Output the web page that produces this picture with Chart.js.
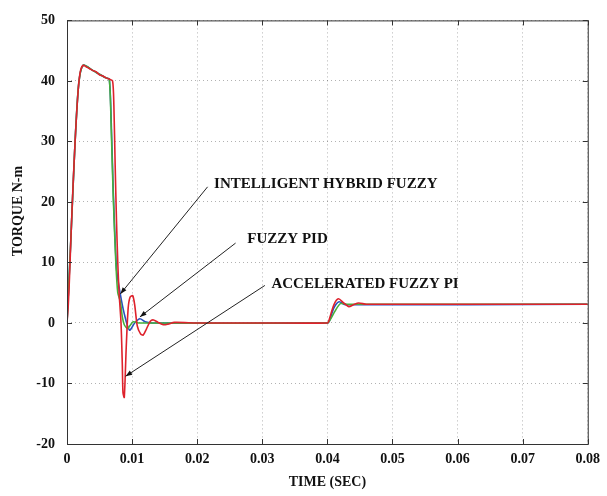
<!DOCTYPE html>
<html>
<head>
<meta charset="utf-8">
<script src="https://cdn.jsdelivr.net/npm/chart.js@4.4.0/dist/chart.umd.min.js"></script>
<style>
  body { margin: 0; background: #fff; }
</style>
</head>
<body>
<canvas id="torqueChart" width="607" height="496"></canvas>
<script>
// Torque response (time in s, torque in N-m)
const redTime = [0, 0.0002, 0.0004, 0.0006, 0.0009, 0.0012, 0.0015, 0.0018, 0.0021, 0.0025, 0.0030, 0.0035, 0.0040, 0.0045, 0.0050, 0.0055, 0.0060, 0.0065, 0.0070,
  0.0072, 0.0074, 0.0076, 0.0078, 0.0080, 0.0083, 0.0085, 0.0086, 0.0088, 0.0091, 0.0094, 0.0097, 0.0101, 0.0104, 0.0108, 0.0113, 0.0117, 0.0122, 0.0128, 0.0133, 0.0140, 0.0148, 0.0155, 0.0165, 0.0200, 0.0300,
  0.0400, 0.0402, 0.0410, 0.0417, 0.0425, 0.0433, 0.0440, 0.0448, 0.0460, 0.0600, 0.0800];
const redTorque = [0, 3, 8, 14, 22, 29, 35, 39.5, 41.8, 42.6, 42.3, 42.0, 41.7, 41.5, 41.0, 40.8, 40.5, 40.3, 40.0,
  36, 26, 17, 10, 5, 0, -7, -11.5, -12.3, -4, 2.5, 4.3, 4.5, 3, -0.5, -1.8, -2, -1, 0.3, 0.5, 0.1, -0.3, -0.2, 0.1, 0, 0,
  0, 0.3, 3, 4, 3.3, 2.7, 3.0, 3.3, 3.1, 3.1, 3.1];

const greenTime = [0, 0.0006, 0.0012, 0.0018, 0.0025, 0.0040, 0.0060, 0.0065, 0.0068, 0.0071, 0.0075, 0.0078, 0.0082, 0.0085, 0.0088, 0.0093, 0.0097, 0.0102, 0.0110, 0.0400,
  0.0403, 0.0412, 0.0420, 0.0430, 0.0800];
const greenTorque = [0, 14, 29, 39.5, 42.6, 41.7, 40.5, 40.3, 32, 21, 10, 5, 3.5, 1, -0.3, -0.9, -0.4, 0.2, 0, 0,
  0.3, 2, 3.2, 3.1, 3.1];

const blueTime = [0, 0.0006, 0.0012, 0.0018, 0.0025, 0.0040, 0.0060, 0.0065, 0.0068, 0.0071, 0.0076, 0.0081, 0.0088, 0.0096, 0.0104, 0.0112, 0.0120, 0.0130, 0.0400,
  0.0403, 0.0410, 0.0418, 0.0428, 0.0800];
const blueTorque = [0, 14, 29, 39.5, 42.6, 41.7, 40.5, 40.3, 33, 22, 9, 5.3, 1.5, -1.2, 0, 0.7, 0.2, 0, 0,
  0.3, 2.5, 3.5, 3.0, 3.1];

const xTickLabels = ['0', '0.01', '0.02', '0.03', '0.04', '0.05', '0.06', '0.07', '0.08'];
const yTickLabels = ['-20', '-10', '0', '10', '20', '30', '40', '50'];

// callouts: label, text anchor, line start and arrow tip (data units)
const noteText = ['INTELLIGENT HYBRID FUZZY', 'FUZZY PID', 'ACCELERATED FUZZY PI'];
const noteTextT = [0.0226, 0.0277, 0.0314];
const noteTextV = [22.95, 13.84, 6.35];
const noteFromT = [0.0216, 0.0259, 0.0304];
const noteFromV = [22.5, 13.2, 6.2];
const noteToT = [0.0082, 0.0112, 0.0090];
const noteToV = [4.8, 1.0, -8.8];

function pts(t, v) {
  return t.map((x, i) => ({ x: x, y: v[i] }));
}

const serif = "'Liberation Serif', 'DejaVu Serif', serif";

const framePlugin = {
  id: 'frame',
  afterDraw(chart) {
    const { ctx, chartArea: a, scales } = chart;
    ctx.save();
    ctx.setLineDash([]);
    ctx.strokeStyle = '#333';
    ctx.lineWidth = 1;
    ctx.strokeRect(a.left + 0.5, a.top + 0.5, a.right - a.left, a.bottom - a.top);
    ctx.beginPath();
    scales.x.ticks.forEach(t => {
      const px = Math.round(scales.x.getPixelForValue(t.value)) + 0.5;
      ctx.moveTo(px, a.bottom); ctx.lineTo(px, a.bottom - 5);
      ctx.moveTo(px, a.top); ctx.lineTo(px, a.top + 5);
    });
    scales.y.ticks.forEach(t => {
      const py = Math.round(scales.y.getPixelForValue(t.value)) + 0.5;
      ctx.moveTo(a.left, py); ctx.lineTo(a.left + 5, py);
      ctx.moveTo(a.right, py); ctx.lineTo(a.right - 5, py);
    });
    ctx.stroke();

    // y axis title sits above centre in the original
    ctx.fillStyle = '#111';
    ctx.font = 'bold 14px ' + serif;
    ctx.textAlign = 'center';
    ctx.textBaseline = 'middle';
    ctx.save();
    ctx.translate(18, scales.y.getPixelForValue(18.5));
    ctx.rotate(-Math.PI / 2);
    ctx.fillText('TORQUE N-m', 0, 0);
    ctx.restore();

    // callouts
    ctx.strokeStyle = '#222';
    ctx.font = 'bold 15px ' + serif;
    ctx.textAlign = 'left';
    noteText.forEach((txt, i) => {
      const x1 = scales.x.getPixelForValue(noteFromT[i]);
      const y1 = scales.y.getPixelForValue(noteFromV[i]);
      const x2 = scales.x.getPixelForValue(noteToT[i]);
      const y2 = scales.y.getPixelForValue(noteToV[i]);
      ctx.beginPath();
      ctx.moveTo(x1, y1); ctx.lineTo(x2, y2);
      ctx.stroke();
      const ang = Math.atan2(y2 - y1, x2 - x1);
      ctx.beginPath();
      ctx.moveTo(x2, y2);
      ctx.lineTo(x2 - 7 * Math.cos(ang - 0.35), y2 - 7 * Math.sin(ang - 0.35));
      ctx.lineTo(x2 - 7 * Math.cos(ang + 0.35), y2 - 7 * Math.sin(ang + 0.35));
      ctx.closePath();
      ctx.fill();
      ctx.fillText(txt, scales.x.getPixelForValue(noteTextT[i]), scales.y.getPixelForValue(noteTextV[i]));
    });
    ctx.restore();
  }
};

const ctx = document.getElementById('torqueChart').getContext('2d');
const torqueChart = new Chart(ctx, {
  type: 'line',
  data: {
    datasets: [{
      label: 'ACCELERATED FUZZY PI',
      data: pts(redTime, redTorque),
      borderColor: 'rgb(222, 34, 44)',
      borderWidth: 1.6
    }, {
      label: 'INTELLIGENT HYBRID FUZZY',
      data: pts(greenTime, greenTorque),
      borderColor: 'rgb(70, 175, 60)',
      borderWidth: 1.6
    }, {
      label: 'FUZZY PID',
      data: pts(blueTime, blueTorque),
      borderColor: 'rgb(40, 80, 190)',
      borderWidth: 1.6
    }]
  },
  options: {
    responsive: false,
    animation: false,
    events: [],
    layout: { padding: { top: 14, right: 17, bottom: 0, left: 0 } },
    elements: { point: { radius: 0 }, line: { tension: 0.25 } },
    plugins: { legend: { display: false }, tooltip: { enabled: false } },
    scales: {
      x: {
        type: 'linear',
        min: 0,
        max: 0.08,
        afterFit: s => { s.height = 52; },
        afterBuildTicks: s => { s.ticks = xTickLabels.map(l => ({ value: parseFloat(l) })); },
        ticks: {
          padding: 7,
          maxRotation: 0,
          color: '#111',
          font: { family: serif, size: 14, weight: 'bold' },
          callback: (v, i) => xTickLabels[i]
        },
        grid: { color: 'rgba(0,0,0,0.3)', drawTicks: false },
        border: { display: false, dash: [1, 3] },
        title: {
          display: true,
          text: 'TIME (SEC)',
          color: '#111',
          padding: { top: 0, bottom: 5 },
          font: { family: serif, size: 14, weight: 'bold' }
        }
      },
      y: {
        min: -20,
        max: 50,
        afterFit: s => { s.width = 67; },
        afterBuildTicks: s => { s.ticks = yTickLabels.map(l => ({ value: parseFloat(l) })); },
        ticks: {
          padding: 12,
          color: '#111',
          font: { family: serif, size: 14, weight: 'bold' },
          callback: (v, i) => yTickLabels[i]
        },
        grid: { color: 'rgba(0,0,0,0.3)', drawTicks: false },
        border: { display: false, dash: [1, 3] }
      }
    }
  },
  plugins: [framePlugin]
});
</script>
</body>
</html>
